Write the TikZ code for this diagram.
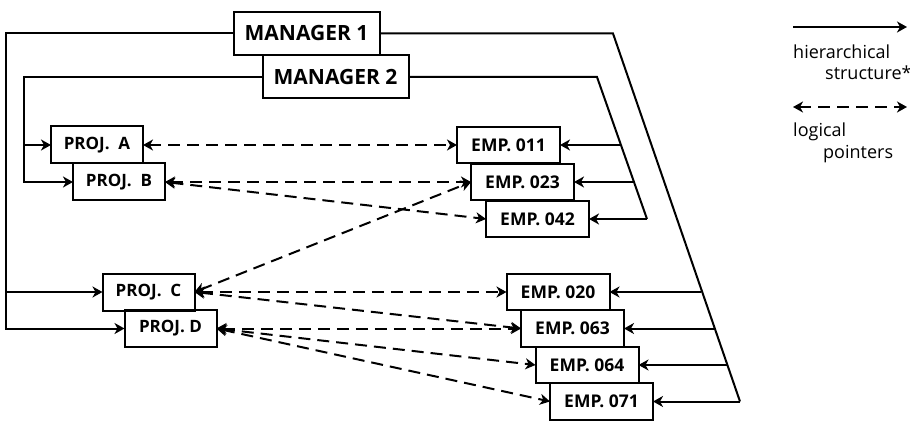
\documentclass[tikz,border=0pt]{standalone}
\usepackage{fontspec}
\setmainfont{Open Sans}
\usetikzlibrary{arrows.meta, positioning}
\tikzset{
  mgrnode/.style={rectangle,draw=black,line width=2pt,minimum width=146pt,
    minimum height=43pt,inner sep=0pt,outer sep=0pt,font=\fontsize{21}{23}\selectfont\bfseries},
  projnode/.style={rectangle,draw=black,line width=2pt,minimum width=92pt,
    minimum height=37pt,inner sep=0pt,outer sep=0pt,font=\fontsize{17}{19}\selectfont\bfseries},
  empnode/.style={rectangle,draw=black,line width=2pt,minimum width=103pt,
    minimum height=36.5pt,inner sep=0pt,outer sep=0pt,font=\fontsize{17.5}{19}\selectfont\bfseries},
  hier/.style={-{Stealth[length=10pt,width=11pt,inset=3pt]},line width=2pt},
  link/.style={line width=2pt},
  ptr/.style={{Stealth[length=10pt,width=11pt,inset=3pt]}-{Stealth[length=10pt,width=11pt,inset=3pt]},
    line width=2pt,dash pattern=on 12pt off 7pt},
  legtext/.style={anchor=west,inner sep=0pt,font=\fontsize{18}{20}\selectfont}
}

\begin{document}
\begin{tikzpicture}[x=1pt,y=-1pt]
  \useasboundingbox (0,0) rectangle (910,422);

  % managers
  \node[mgrnode] (m1) at (306.5,33.5) {MANAGER 1};
  \node[mgrnode] (m2) at (335.5,77) {MANAGER 2};

  % projects
  \node[projnode] (pa) at (97,145) {PROJ.\ \ A};
  \node[projnode] (pb) at (119,182) {PROJ.\ \ B};
  \node[projnode] (pc) at (148.5,292) {PROJ.\ \ C};
  \node[projnode] (pd) at (170.5,328.5) {PROJ. D};

  % employees
  \node[empnode] (e011) at (508.5,145) {EMP. 011};
  \node[empnode] (e023) at (522.5,182) {EMP. 023};
  \node[empnode] (e042) at (537.5,219) {EMP. 042};
  \node[empnode] (e020) at (558,292) {EMP. 020};
  \node[empnode] (e063) at (572.5,328.5) {EMP. 063};
  \node[empnode] (e064) at (587,365) {EMP. 064};
  \node[empnode] (e071) at (601.5,401.5) {EMP. 071};

  % hierarchy, left side
  \coordinate (m1l) at (6,33.5);
  \coordinate (m2l) at (24,77);
  \draw[hier] (m1.west) -- (m1l) |- (pd.west);
  \draw[hier] (m1l |- pc.west) -- (pc.west);
  \draw[hier] (m2.west) -- (m2l) |- (pb.west);
  \draw[hier] (m2l |- pa.west) -- (pa.west);

  % hierarchy, right side
  \coordinate (m1r) at (613,33.5);
  \coordinate (m1b) at (740,401.5);
  \coordinate (m2r) at (597,77);
  \coordinate (m2b) at (647,219);
  \draw[link] (m1.east) -- (m1r) -- (m1b);
  \draw[hier] (m1b) -- (e071.east);
  \draw[link] (m2.east) -- (m2r) -- (m2b);
  \draw[hier] (m2b) -- (e042.east);
  \coordinate (j011) at (620,145);
  \coordinate (j023) at (633,182);
  \coordinate (j020) at (701,292);
  \coordinate (j063) at (714,328.5);
  \coordinate (j064) at (726.5,365);
  \draw[hier] (j011) -- (e011.east);
  \draw[hier] (j023) -- (e023.east);
  \draw[hier] (j020) -- (e020.east);
  \draw[hier] (j063) -- (e063.east);
  \draw[hier] (j064) -- (e064.east);

  % logical pointers
  \draw[ptr] (pa.east) -- (e011.west);
  \draw[ptr] (pb.east) -- (e023.west);
  \draw[ptr] (pb.east) -- (e042.west);
  \draw[ptr] (pc.east) -- (e023.west);
  \draw[ptr] (pc.east) -- (e020.west);
  \draw[ptr] (pc.east) -- (e063.west);
  \draw[ptr] (pd.east) -- (e063.west);
  \draw[ptr] (pd.east) -- (e064.west);
  \draw[ptr] (pd.east) -- (e071.west);

  % legend
  \coordinate (h1) at (793,27);
  \coordinate (h2) at (907,27);
  \coordinate (l1) at (793,107);
  \coordinate (l2) at (907,107);
  \draw[hier] (h1) -- (h2);
  \draw[ptr] (l1) -- (l2);
  \node[legtext] (ht1) at (793,52) {hierarchical};
  \node[legtext] (ht2) at (825,73) {structure*};
  \node[legtext] (lt1) at (793,132) {logical};
  \node[legtext] (lt2) at (823,154) {pointers};

\end{tikzpicture}
\end{document}
